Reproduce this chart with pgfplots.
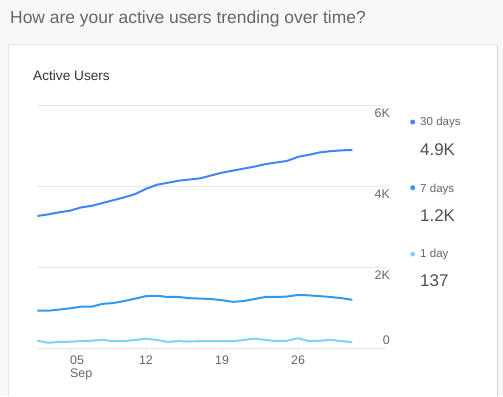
\documentclass[border=0pt]{standalone}
\usepackage{fontspec}
\setmainfont{Liberation Sans}
\usepackage{pgfplots}
\usepackage{pgfplotstable}
\pgfplotsset{compat=1.18}
\definecolor{bg}{HTML}{F7F8FA}
\definecolor{cthirty}{HTML}{4285F4}
\definecolor{cseven}{HTML}{3399F0}
\definecolor{cone}{HTML}{85D2F0}
\definecolor{gridc}{HTML}{E6E6E6}
\definecolor{txt}{HTML}{666666}
\definecolor{dark}{HTML}{505050}

\pgfplotstableread{
day thirty seven one
2  3260 920 180
3  3300 920 130
4  3350 950 150
5  3390 980 155
6  3470 1020 170
7  3510 1020 180
8  3580 1090 200
9  3650 1110 170
10 3720 1160 170
11 3800 1220 200
12 3930 1280 230
13 4030 1290 200
14 4080 1260 150
15 4130 1260 170
16 4160 1230 160
17 4190 1220 170
18 4260 1210 170
19 4330 1180 170
20 4380 1140 170
21 4430 1160 200
22 4480 1210 230
23 4540 1260 200
24 4580 1260 170
25 4620 1270 180
26 4720 1310 240
27 4770 1300 170
28 4830 1280 180
29 4860 1260 200
30 4880 1230 170
31 4890 1190 140
}\datatable

\begin{document}
\begin{tikzpicture}
\fill[bg] (0,0) rectangle (503bp,396bp);
\fill[white] (8bp,0) rectangle (497bp,352bp);
\draw[gridc, line width=0.8bp] (8bp,0) -- (8bp,352bp) -- (497bp,352bp);
\draw[gray!35, line width=1.2bp] (497.5bp,0) -- (497.5bp,351bp);
\node[anchor=west, inner sep=0, font=\fontsize{17.5}{20}\selectfont, text=txt] at (10bp,377bp) {How are your active users trending over time?};
\node[anchor=west, inner sep=0, font=\fontsize{13.7}{16}\selectfont, text=black!80] at (33bp,320bp) {Active Users};

% legend
\fill[cthirty] (412.7bp,274bp) circle (2.5bp);
\node[anchor=base west, inner sep=0, font=\fontsize{11.6}{14}\selectfont, text=txt] at (420bp,270bp) {30 days};
\node[anchor=base west, inner sep=0, font=\fontsize{17}{20}\selectfont, text=dark] at (420bp,240bp) {4.9K};
\fill[cseven] (412.7bp,208.3bp) circle (2.5bp);
\node[anchor=base west, inner sep=0, font=\fontsize{11.6}{14}\selectfont, text=txt] at (420bp,203.7bp) {7 days};
\node[anchor=base west, inner sep=0, font=\fontsize{17}{20}\selectfont, text=dark] at (420bp,174.3bp) {1.2K};
\fill[cone] (412.7bp,142bp) circle (2.5bp);
\node[anchor=base west, inner sep=0, font=\fontsize{11.6}{14}\selectfont, text=txt] at (420bp,138.3bp) {1 day};
\node[anchor=base west, inner sep=0, font=\fontsize{17}{20}\selectfont, text=dark] at (420bp,109.3bp) {137};

\begin{axis}[
  at={(37.4bp,48bp)}, anchor=south west,
  scale only axis, width=348.6bp, height=243bp,
  xmin=2, xmax=34.1, ymin=0, ymax=6000,
  axis line style={draw=none},
  ymajorgrids, grid style={gridc, line width=0.8bp},
  ytick={2000,4000,6000}, yticklabels={2K,4K,6K},
  yticklabel pos=right,
  ytick style={draw=none},
  yticklabel style={anchor=north east, inner sep=0pt, yshift=-3.5bp},
  extra y ticks={0}, extra y tick labels={0},
  extra y tick style={grid=major, ytick style={draw=none}, yticklabel style={anchor=south east, inner sep=0pt, yshift=7bp}},
  xtick={12,19,26}, xticklabels={12,19,26},
  xtick pos=bottom, tick align=outside, major tick length=4bp,
  xtick style={gridc, line width=0.8bp},
  xticklabel style={anchor=north, inner sep=0pt, yshift=-4bp},
  extra x ticks={5}, extra x tick labels={{05\\Sep}},
  extra x tick style={grid=none, xticklabel style={anchor=north west, align=left, inner sep=0pt}},
  tick label style={font=\fontsize{12.5}{13}\selectfont, text=txt},
  clip=false,
]
\addplot[cthirty, line width=2bp, line join=round] table[x=day, y=thirty] {\datatable};
\addplot[cseven, line width=2bp, line join=round] table[x=day, y=seven] {\datatable};
\addplot[cone, line width=2bp, line join=round] table[x=day, y=one] {\datatable};
\end{axis}
\end{tikzpicture}
\end{document}
